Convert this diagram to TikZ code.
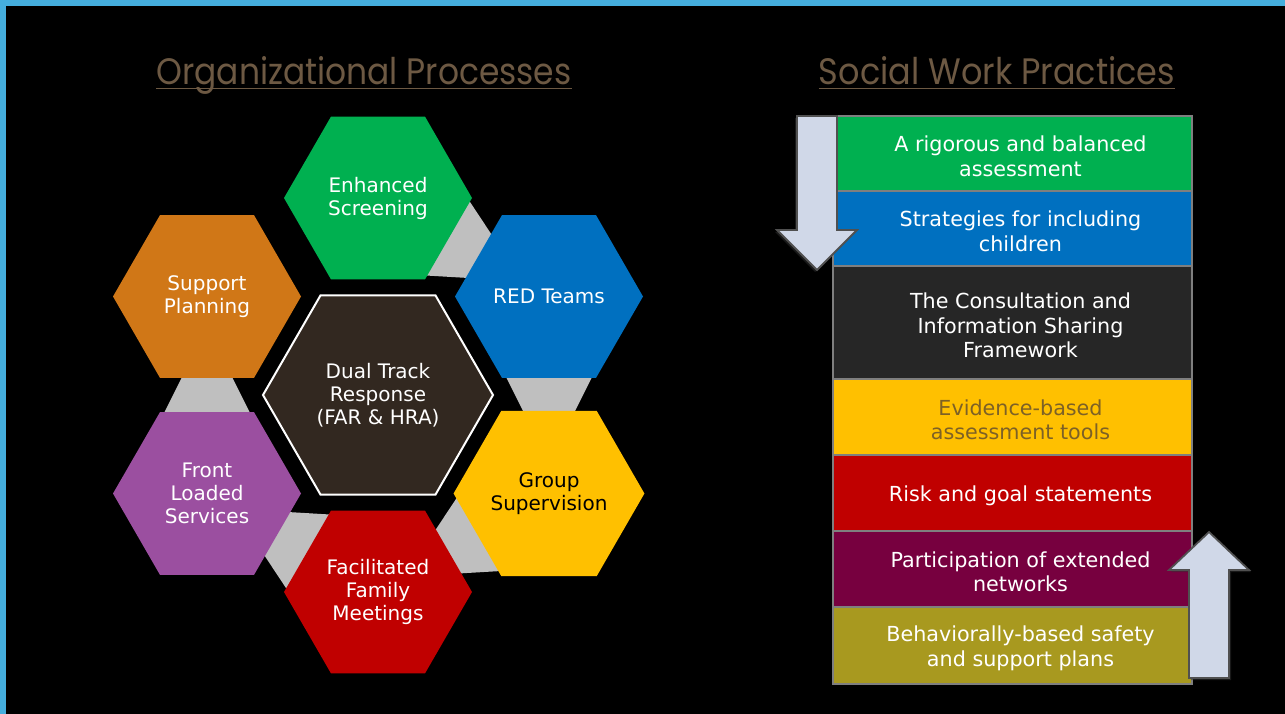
\documentclass[tikz,border=0pt]{standalone}
\usepackage{graphicx}
\usepackage{fontspec}
\setmainfont{DejaVu Sans}
\newfontfamily\titlefont{Poppins}
\usetikzlibrary{shapes.geometric,calc,backgrounds,shadows}

\definecolor{frameblue}{HTML}{45AEDD}
\definecolor{titlebrown}{HTML}{6D5943}
\definecolor{esgreen}{HTML}{00B050}
\definecolor{teamblue}{HTML}{0070C0}
\definecolor{gsyellow}{HTML}{FFC000}
\definecolor{ffred}{HTML}{C00000}
\definecolor{flpurple}{HTML}{9B4FA0}
\definecolor{sporange}{HTML}{D07717}
\definecolor{dualbrown}{HTML}{322820}
\definecolor{hexgray}{HTML}{BFBFBF}
\definecolor{rowgray}{HTML}{7F7F7F}
\definecolor{rowdark}{HTML}{262626}
\definecolor{rowmaroon}{HTML}{77003F}
\definecolor{rowolive}{HTML}{A8991F}
\definecolor{toolbrown}{HTML}{7D6126}
\definecolor{arrowfill}{HTML}{D0D8E8}
\definecolor{arrowedge}{HTML}{505050}

\tikzset{
    hexbox/.style={regular polygon, regular polygon sides=6, minimum size=188pt,
        inner sep=0pt, outer sep=0pt, text=white, align=center,
        font=\fontsize{20}{23}\selectfont},
    linkgray/.style={fill=hexgray},
    rowbox/.style={rectangle, draw=rowgray, line width=2.5pt, minimum width=359pt,
        inner sep=0pt, text=white, font=\fontsize{20.7}{24.5}\selectfont},
    bigarrow/.style={fill=arrowfill, draw=arrowedge, line width=1.8pt, line join=miter},
    heading/.style={text=titlebrown, inner sep=0pt, anchor=base}
}

% row text sits a little right of and below the box centre
\newcommand\rowlines[1]{\hspace*{16pt}\parbox{343pt}{\centering\vspace*{6pt}#1}}

% gray link between two neighbouring hexagons, wide end at the first one
\newcommand\hexlink[2]{%
    \coordinate (lm) at ($(#1.center)!0.5!(#2.center)$);
    \coordinate (la) at ($(lm)!-22pt!(#2.center)$);
    \coordinate (lb) at ($(lm)!22pt!(#2.center)$);
    \fill[linkgray] ($(la)!45pt!90:(#2.center)$) -- ($(lb)!23pt!90:(#2.center)$)
        -- ($(lb)!23pt!-90:(#2.center)$) -- ($(la)!45pt!-90:(#2.center)$) -- cycle;}

\begin{document}
\begin{tikzpicture}[x=1pt,y=1pt]
    \useasboundingbox (0,0) rectangle (1285,-714);
    \begin{pgfonlayer}{background}
        % Frame
        \fill[frameblue] (0,0) rectangle (1285,-714);
        \fill[black] (6,-6) rectangle (1285,-714);
    \end{pgfonlayer}

    % Headings
    \node[heading] (orgtitle) at (364,-85) {\resizebox{415pt}{28pt}{\titlefont Organizational Processes}};
    \draw[titlebrown, line width=1.6pt] ([yshift=-3.5pt]orgtitle.base west) -- ([yshift=-3.5pt]orgtitle.base east);
    \node[heading] (swtitle) at (997,-85) {\resizebox{356pt}{28pt}{\titlefont Social Work Practices}};
    \draw[titlebrown, line width=1.6pt] ([yshift=-3.5pt]swtitle.base west) -- ([yshift=-3.5pt]swtitle.base east);

    % Hexagons
    \node[hexbox, fill=dualbrown, draw=white, line width=2pt, minimum size=230pt] (dual) at (378,-395) {Dual Track\\Response\\(FAR \& HRA)};
    \node[hexbox, fill=esgreen] (screen) at (378,-198) {Enhanced\\Screening};
    \node[hexbox, fill=teamblue] (red) at (549,-296.5) {RED Teams};
    \node[hexbox, fill=gsyellow, text=black] (group) at (549,-493.5) {Group\\Supervision};
    \node[hexbox, fill=ffred] (family) at (378,-592) {Facilitated\\Family\\Meetings};
    \node[hexbox, fill=flpurple] (front) at (207,-493.5) {Front\\Loaded\\Services};
    \node[hexbox, fill=sporange] (support) at (207,-296.5) {Support\\Planning};

    % Links behind the hexagons
    \begin{pgfonlayer}{background}
        \hexlink{screen}{red}
        \hexlink{red}{group}
        \hexlink{group}{family}
        \hexlink{family}{front}
        \hexlink{front}{support}
    \end{pgfonlayer}

    % Practice stack
    \node[rowbox, fill=esgreen, minimum height=75pt] (row1) at (1012.5,-153.5) {\rowlines{A rigorous and balanced\\assessment}};
    \node[rowbox, fill=teamblue, minimum height=75pt] (row2) at (1012.5,-228.5) {\rowlines{Strategies for including\\children}};
    \node[rowbox, fill=rowdark, minimum height=113pt] (row3) at (1012.5,-322.5) {\rowlines{The Consultation and\\Information Sharing\\Framework}};
    \node[rowbox, fill=gsyellow, text=toolbrown, minimum height=76pt] (row4) at (1012.5,-417) {\rowlines{Evidence-based\\assessment tools}};
    \node[rowbox, fill=ffred, minimum height=76pt] (row5) at (1012.5,-493) {\rowlines{Risk and goal statements}};
    \node[rowbox, fill=rowmaroon, minimum height=76pt] (row6) at (1012.5,-569) {\rowlines{Participation of extended\\networks}};
    \node[rowbox, fill=rowolive, minimum height=77pt] (row7) at (1012.5,-645.5) {\rowlines{Behaviorally-based safety\\and support plans}};

    % Arrows
    \draw[bigarrow, drop shadow={shadow xshift=-2pt, shadow yshift=-2pt, fill=black!80}]
        (797,-116) -- (837,-116) -- (837,-230) -- (857,-230) -- (817,-270) -- (777,-230) -- (797,-230) -- cycle;
    \draw[bigarrow, drop shadow={shadow xshift=2pt, shadow yshift=-2pt, fill=black!80}]
        (1189,-678) -- (1229,-678) -- (1229,-570) -- (1249,-570) -- (1209,-532) -- (1169,-570) -- (1189,-570) -- cycle;
\end{tikzpicture}
\end{document}
